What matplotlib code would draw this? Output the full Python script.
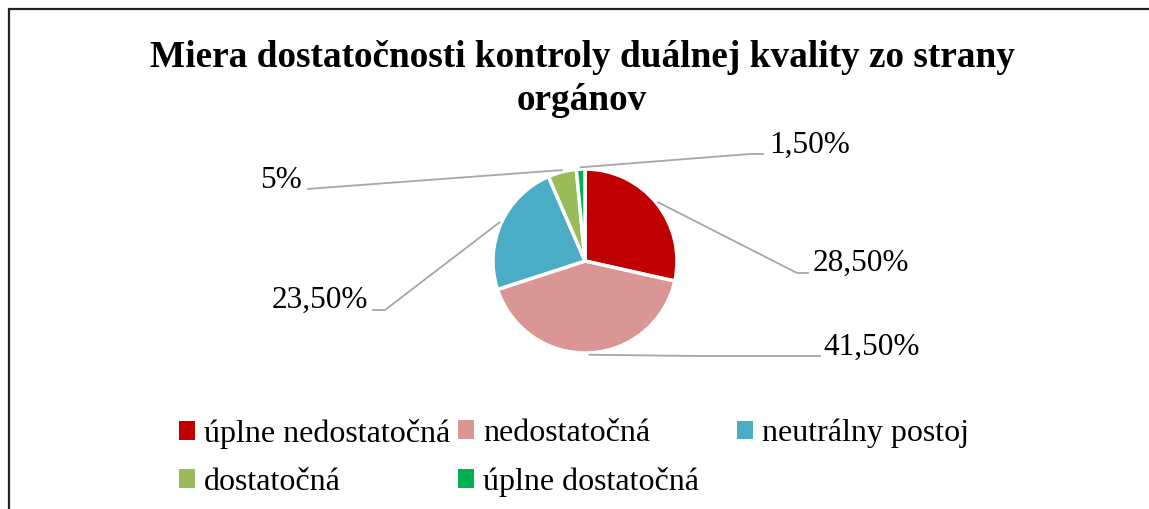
import numpy as np
import matplotlib.pyplot as plt
from matplotlib.patches import Rectangle

# Data
categories = ['úplne nedostatočná', 'nedostatočná', 'neutrálny postoj',
              'dostatočná', 'úplne dostatočná']
values = [28.5, 41.5, 23.5, 5, 1.5]
labels = ['28,50%', '41,50%', '23,50%', '5%', '1,50%']
colors = ['#C00000', '#D99694', '#4BACC6', '#9BBB59', '#00B050']

plt.rcParams['font.family'] = ['Liberation Serif', 'DejaVu Serif']

W, H = 1149, 509
fig = plt.figure(figsize=(W / 100, H / 100), dpi=100)
ax = fig.add_axes([0, 0, 1, 1])

# frame of the chart area
fig.patches.append(Rectangle((9 / W, -0.1), 1.2, 1.1 - 9 / H, transform=fig.transFigure,
                             fill=False, edgecolor='#222222', linewidth=1.6))

cx, cy, r = 585, H - 261, 92
wedges, _ = ax.pie(values, colors=colors, startangle=90, counterclock=False,
                   center=(cx, cy), radius=r, frame=True,
                   wedgeprops=dict(edgecolor='white', linewidth=2.5))
ax.set_xlim(0, W)
ax.set_ylim(0, H)
ax.set_aspect('equal')
ax.axis('off')

# label layout: (elbow, end of leader, text anchor, ha)
layout = [
    ((797, 273), (808, 273), (813, 263), 'left'),
    ((700, 356), (820, 356), (823, 347), 'left'),
    ((385, 310), (373, 310), (368, 300), 'right'),
    ((320, 188), (308, 189), (302, 180), 'right'),
    ((750, 154), (763, 154), (769, 145), 'left'),
]
for w, lab, (elbow, end, txt, ha) in zip(wedges, labels, layout):
    ang = np.deg2rad((w.theta1 + w.theta2) / 2)
    sx = cx + r * 1.02 * np.cos(ang)
    sy = cy + r * 1.02 * np.sin(ang)
    ax.plot([sx, elbow[0], end[0]], [sy, H - elbow[1], H - end[1]],
            color='#A6A6A6', linewidth=1.3)
    ax.text(txt[0], H - txt[1], lab, ha=ha, va='center', fontsize=22.5)

fig.text(582 / W, 1 - 79 / H,
         'Miera dostatočnosti kontroly duálnej kvality zo strany\norgánov',
         ha='center', va='center', fontsize=26.8, fontweight='bold',
         linespacing=1.3)

# legend, laid out row by row in three columns
columns = [[0, 3], [1, 4], [2]]
col_x = [150, 429, 708]
for idx, x0 in zip(columns, col_x):
    leg = fig.legend([wedges[i] for i in idx], [categories[i] for i in idx],
                     loc='upper left', bbox_to_anchor=(x0 / W, 1 - 390 / H),
                     frameon=False, fontsize=23, handlelength=0.5, handleheight=0.5,
                     handletextpad=0.3, labelspacing=0.6)
    for h in leg.legend_handles:
        h.set_linewidth(0)

fig.savefig('out.png', dpi=100)
